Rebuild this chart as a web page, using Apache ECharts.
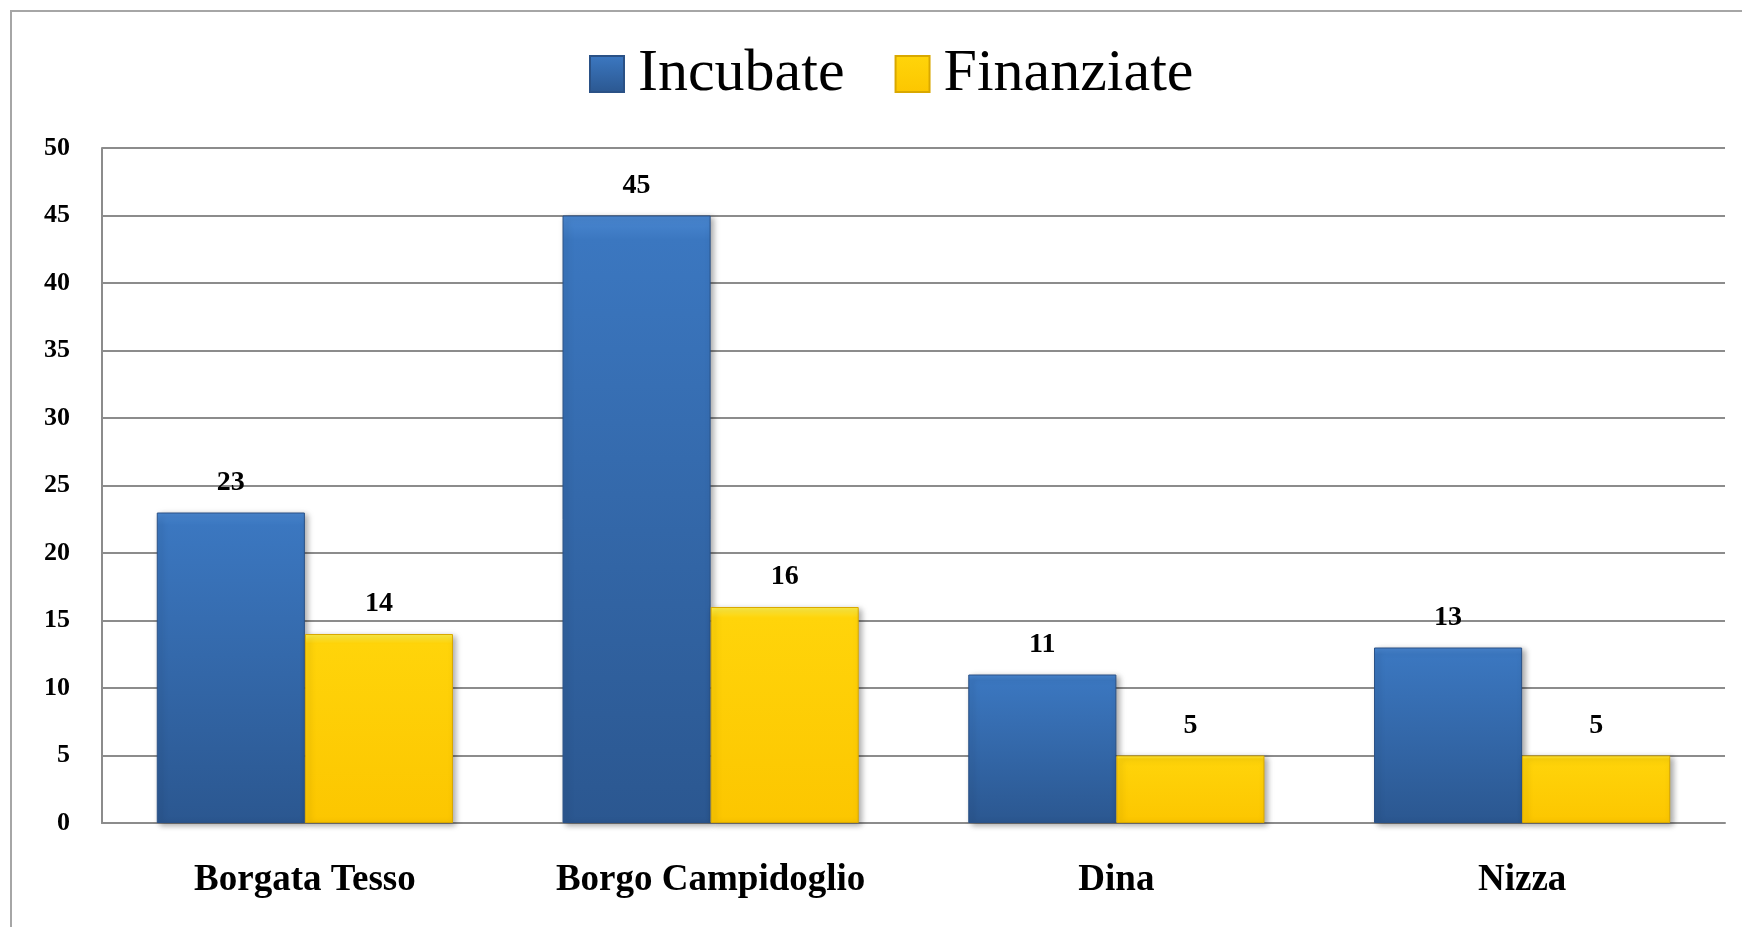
<!DOCTYPE html>
<html>
<head>
<meta charset="utf-8">
<title>Incubate / Finanziate</title>
<script src="https://cdn.jsdelivr.net/npm/echarts@6/dist/echarts.min.js"></script>
<style>
html, body { margin: 0; padding: 0; background: #fff; }
#chart { width: 1742px; height: 927px; }
</style>
</head>
<body>
<div id="chart"></div>
<script>
// dati
const quartieri = ["Borgata Tesso", "Borgo Campidoglio", "Dina", "Nizza"]
const incubate = [23, 45, 11, 13]
const finanziate = [14, 16, 5, 5]
const yTicks = [0, 50, 5] // min, max, passo

const serif = "'Liberation Serif', 'DejaVu Serif', serif"

let myChart = echarts.init(document.getElementById("chart"))
myChart.setOption({
  animation: false,
  graphic: [
    {
      type: "rect",
      shape: { x: 11, y: 11, width: 1800, height: 1000 },
      style: { fill: "none", stroke: "#a6a6a6", lineWidth: 2 }
    }
  ],
  grid: {
    left: 102,
    right: 17,
    top: 148,
    bottom: 104
  },
  legend: {
    left: 584,
    top: 39,
    itemWidth: 34,
    itemHeight: 36,
    itemGap: 50,
    icon: "rect",
    textStyle: {
      fontFamily: serif,
      fontSize: 60,
      lineHeight: 60,
      color: "#000",
      padding: [0, 0, 0, 9]
    }
  },
  xAxis: {
    type: "category",
    data: quartieri,
    axisTick: { show: false },
    axisLine: {
      lineStyle: { color: "#8c8c8c", width: 2 }
    },
    axisLabel: {
      margin: 39,
      fontFamily: serif,
      fontSize: 37,
      fontWeight: "bold",
      color: "#000"
    }
  },
  yAxis: {
    type: "value",
    min: yTicks[0],
    max: yTicks[1],
    interval: yTicks[2],
    axisLine: {
      show: true,
      lineStyle: { color: "#8c8c8c", width: 2 }
    },
    axisTick: { show: false },
    splitLine: {
      lineStyle: { color: "#8c8c8c", width: 2 }
    },
    axisLabel: {
      margin: 32,
      fontFamily: serif,
      fontSize: 26,
      fontWeight: "bold",
      color: "#000"
    }
  },
  series: [
    {
      name: "Incubate",
      type: "bar",
      data: incubate,
      barGap: "0%",
      barCategoryGap: "27%",
      itemStyle: {
        color: new echarts.graphic.LinearGradient(0, 0, 0, 1, [
          { offset: 0, color: "#4a88d2" },
          { offset: 0.04, color: "#3b77c0" },
          { offset: 1, color: "#2b5790" }
        ]),
        borderColor: "#2a5186",
        borderWidth: 1,
        shadowColor: "rgba(0,0,0,0.35)",
        shadowBlur: 6,
        shadowOffsetX: 3,
        shadowOffsetY: 2
      },
      label: {
        show: true,
        position: "top",
        distance: 16,
        fontFamily: serif,
        fontSize: 28,
        fontWeight: "bold",
        color: "#000"
      }
    },
    {
      name: "Finanziate",
      type: "bar",
      data: finanziate,
      barGap: "0%",
      barCategoryGap: "27%",
      itemStyle: {
        color: new echarts.graphic.LinearGradient(0, 0, 0, 1, [
          { offset: 0, color: "#fff04a" },
          { offset: 0.05, color: "#ffd40a" },
          { offset: 1, color: "#fcc600" }
        ]),
        borderColor: "#d9a800",
        borderWidth: 1,
        shadowColor: "rgba(0,0,0,0.35)",
        shadowBlur: 6,
        shadowOffsetX: 3,
        shadowOffsetY: 2
      },
      label: {
        show: true,
        position: "top",
        distance: 16,
        fontFamily: serif,
        fontSize: 28,
        fontWeight: "bold",
        color: "#000"
      }
    }
  ]
})
</script>
</body>
</html>
